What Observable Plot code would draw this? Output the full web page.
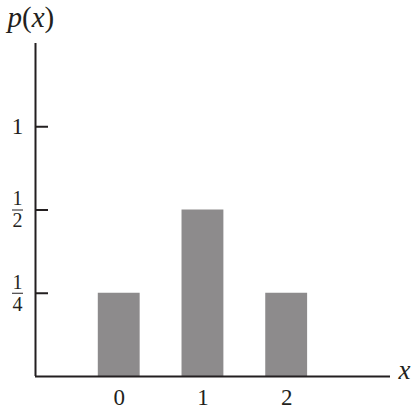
<!DOCTYPE html>
<html><head><meta charset="utf-8">
<script src="https://cdn.jsdelivr.net/npm/d3@7"></script>
<script src="https://cdn.jsdelivr.net/npm/@observablehq/plot@0.6"></script>
<style>
body{margin:0;background:#fff}
</style>
</head><body><div id="chart"></div>
<script>
const xValues = [0, 1, 2];
const probabilities = [0.25, 0.5, 0.25];
const xTickLabels = ["0", "1", "2"];
const yTickValues = [0.25, 0.5, 1];
const yTickNumerators = ["1", "1", "1"];
const yTickDenominators = ["4", "2", ""];
const xLabel = "x";
const yLabel = "p(x)";

const W = 417, H = 414;
const margin = {top: 43, right: 27, bottom: 38, left: 35};
const xDomain = [-1, 3.24];
const yStops = [0, 0.25, 0.5, 1, 1.5];
const yRange = yStops.map((_, i) => H - margin.bottom - i * (H - margin.top - margin.bottom) / (yStops.length - 1));
const ink = "#231f20", gray = "#8d8b8c";
const font = "Liberation Serif";
const xs = Plot.scale({x: {domain: xDomain, range: [margin.left, W - margin.right]}});

const bars = xValues.map((x, i) => ({x, p: probabilities[i]}));
const ticks = yTickValues.map((y, i) => ({y, num: yTickNumerators[i], den: yTickDenominators[i]}));
const wholeTicks = ticks.filter(d => !d.den);
const fracTicks = ticks.filter(d => d.den);

const chart = Plot.plot({
  width: W, height: H,
  marginTop: margin.top, marginRight: margin.right, marginBottom: margin.bottom, marginLeft: margin.left,
  style: {fontFamily: font, overflow: "visible", background: "#fff"},
  x: {type: "linear", domain: xDomain, axis: null},
  y: {type: "linear", domain: yStops, range: yRange, axis: null},
  marks: [
    Plot.rectY(bars, {x1: d => d.x - 0.25, x2: d => d.x + 0.25, y1: 0, y2: "p", fill: gray}),
    Plot.ruleX([xDomain[0]], {stroke: ink, strokeWidth: 2}),
    Plot.ruleY([0], {stroke: ink, strokeWidth: 2}),
    Plot.ruleY(ticks, {y: "y", x1: xDomain[0], x2: xs.invert(margin.left + 13), stroke: ink, strokeWidth: 2}),
    Plot.text(xValues, {x: d => d, y: 0, text: (d, i) => xTickLabels[i], dy: 21, fontSize: 23, fontFamily: font, fill: ink}),
    Plot.text(wholeTicks, {y: "y", text: "num", frameAnchor: "left", textAnchor: "middle", dx: -18, fontSize: 23, fontFamily: font, fill: ink}),
    Plot.text(fracTicks, {y: "y", text: "num", frameAnchor: "left", textAnchor: "middle", dx: -18, dy: -11, fontSize: 20, fontFamily: font, fill: ink}),
    Plot.text(fracTicks, {y: "y", text: "den", frameAnchor: "left", textAnchor: "middle", dx: -18, dy: 11, fontSize: 20, fontFamily: font, fill: ink}),
    Plot.ruleY(fracTicks, {y: "y", x1: xs.invert(12), x2: xs.invert(23), stroke: ink, strokeWidth: 1}),
    Plot.text([xLabel], {frameAnchor: "bottom-right", text: d => d, dx: 20, dy: 2, fontSize: 27, fontStyle: "italic", fontFamily: font, fill: ink}),
    Plot.text([yLabel], {frameAnchor: "top-left", text: d => d, dx: -28, dy: -37, fontSize: 29, fontFamily: font, fill: ink, className: "ylab"})
  ]
});
document.getElementById("chart").appendChild(chart);
// italicize p and x inside the y label, keep parentheses upright
chart.querySelectorAll(".ylab text").forEach(t => {
  const s = t.textContent;
  t.textContent = "";
  for (const ch of s) {
    const ts = document.createElementNS("http://www.w3.org/2000/svg", "tspan");
    ts.textContent = ch;
    if (/[a-z]/.test(ch)) ts.setAttribute("font-style", "italic");
    t.appendChild(ts);
  }
});
</script>
</body></html>
